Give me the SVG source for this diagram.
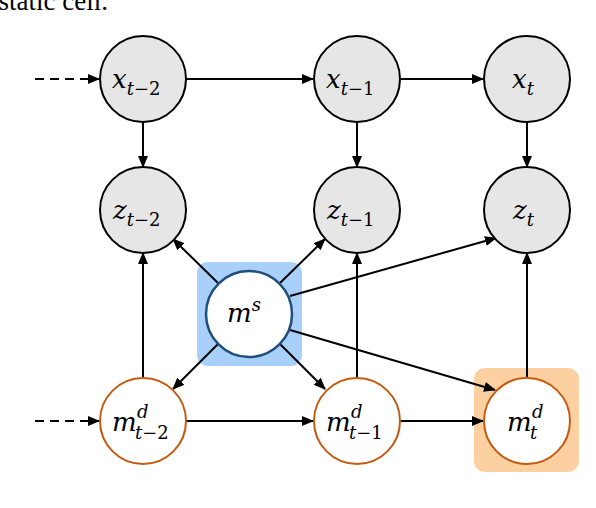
<svg xmlns="http://www.w3.org/2000/svg" width="596" height="508" viewBox="0 0 596 508">
<style>
.g{fill:#e6e6e6;stroke:#000;stroke-width:2}
.s{fill:#fff;stroke:#1f4e79;stroke-width:2.5}
.d{fill:#fff;stroke:#c55a11;stroke-width:2}
.e{stroke:#000;stroke-width:2;fill:none;marker-end:url(#ah)}
.dash{stroke-dasharray:9,6}
.lb{font-family:"DejaVu Serif","Liberation Serif",serif;font-style:italic;font-size:26px;fill:#000}
.sb{font-size:18px}
.up{font-style:normal}
.cap{font-family:"Liberation Serif",serif;font-size:27px;fill:#000}
</style>
<defs>
<marker id="ah" markerUnits="userSpaceOnUse" markerWidth="12" markerHeight="10" refX="11" refY="5" orient="auto">
<path d="M0,0 L12,5 L0,10 Z" fill="#000"/>
</marker>
</defs>
<text class="cap" x="108" y="10" text-anchor="end">static cell.</text>
<rect x="197" y="262" width="105" height="104" rx="11" fill="#a9d0fb"/>
<rect x="474" y="368" width="105" height="104" rx="11" fill="#fdd0a2"/>
<g id="connectors">
<line class="e dash" x1="35" y1="79" x2="99" y2="79"/>
<line class="e dash" x1="35" y1="421" x2="99" y2="421"/>
<line class="e" x1="186" y1="79" x2="313" y2="79"/>
<line class="e" x1="400" y1="79" x2="483" y2="79"/>
<line class="e" x1="143" y1="122" x2="143" y2="167"/>
<line class="e" x1="357" y1="122" x2="357" y2="167"/>
<line class="e" x1="527" y1="122" x2="527" y2="167"/>
<line class="e" x1="143" y1="377" x2="143" y2="253"/>
<line class="e" x1="357" y1="377" x2="357" y2="253"/>
<line class="e" x1="527" y1="377" x2="527" y2="253"/>
<line class="e" x1="186" y1="421" x2="313" y2="421"/>
<line class="e" x1="400" y1="421" x2="483" y2="421"/>
<line class="e" x1="218" y1="283" x2="173" y2="239"/>
<line class="e" x1="280" y1="283" x2="325" y2="239"/>
<line class="e" x1="290" y1="296" x2="496" y2="238"/>
<line class="e" x1="218" y1="344" x2="173" y2="389"/>
<line class="e" x1="280" y1="344" x2="325" y2="389"/>
<line class="e" x1="290" y1="330" x2="495" y2="390"/>
</g>
<g id="x_t-2"><circle class="g" cx="143" cy="79" r="43"/><text class="lb" x="112" y="88">x<tspan class="sb" dy="7">t<tspan class="up">−2</tspan></tspan></text></g>
<g id="x_t-1"><circle class="g" cx="357" cy="79" r="43"/><text class="lb" x="326" y="88">x<tspan class="sb" dy="7">t<tspan class="up">−1</tspan></tspan></text></g>
<g id="x_t"><circle class="g" cx="527" cy="79" r="43"/><text class="lb" x="512" y="88">x<tspan class="sb" dy="7">t</tspan></text></g>
<g id="z_t-2"><circle class="g" cx="143" cy="210" r="43"/><text class="lb" x="113" y="219">z<tspan class="sb" dy="7">t<tspan class="up">−2</tspan></tspan></text></g>
<g id="z_t-1"><circle class="g" cx="357" cy="210" r="43"/><text class="lb" x="327" y="219">z<tspan class="sb" dy="7">t<tspan class="up">−1</tspan></tspan></text></g>
<g id="z_t"><circle class="g" cx="527" cy="210" r="43"/><text class="lb" x="513" y="219">z<tspan class="sb" dy="7">t</tspan></text></g>
<g id="m_s"><circle class="s" cx="249" cy="314" r="43"/><text class="lb" x="227" y="322">m<tspan class="sb" dy="-11">s</tspan></text></g>
<g id="md_t-2"><circle class="d" cx="143" cy="421" r="43"/><text class="lb" x="112" y="431">m<tspan class="sb" x="137" y="418">d</tspan><tspan class="sb" x="135" y="439">t<tspan class="up">−2</tspan></tspan></text></g>
<g id="md_t-1"><circle class="d" cx="357" cy="421" r="43"/><text class="lb" x="326" y="431">m<tspan class="sb" x="351" y="418">d</tspan><tspan class="sb" x="349" y="439">t<tspan class="up">−1</tspan></tspan></text></g>
<g id="md_t"><circle class="d" cx="527" cy="421" r="43"/><text class="lb" x="507" y="431">m<tspan class="sb" x="532" y="418">d</tspan><tspan class="sb" x="530" y="439">t</tspan></text></g>
</svg>
